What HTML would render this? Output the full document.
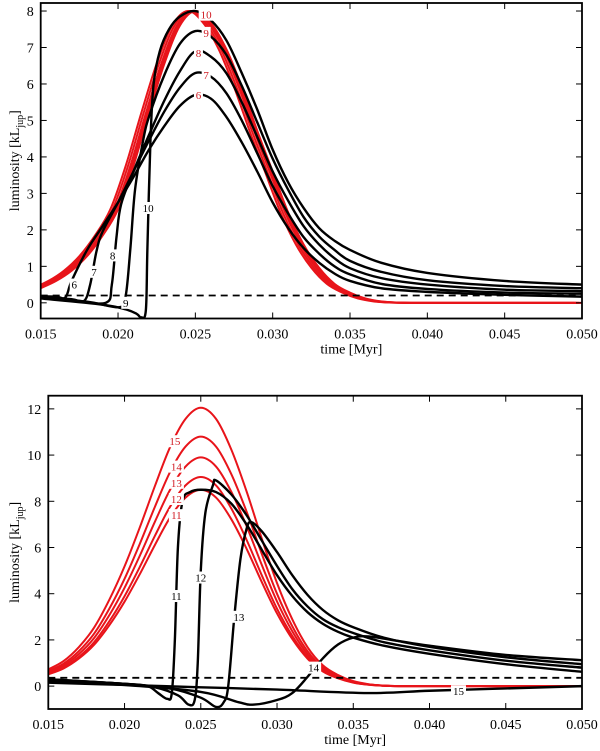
<!DOCTYPE html>
<html><head><meta charset="utf-8">
<style>
html,body{margin:0;padding:0;background:#fff;}
svg{display:block;font-family:"Liberation Serif",serif;}
</style></head>
<body>
<svg id="chart" width="600" height="751" viewBox="0 0 600 751" xmlns="http://www.w3.org/2000/svg"></svg>
<script>
// ---------- data ----------
const xTicks = [0.015,0.020,0.025,0.030,0.035,0.040,0.045,0.050];
const xTickLabels = ["0.015","0.020","0.025","0.030","0.035","0.040","0.045","0.050"];
const yTicksTop = [0,1,2,3,4,5,6,7,8];
const yTicksBot = [0,2,4,6,8,10,12];
// red reference shapes (normalised), sampled on time grid
const shapeT = [0.015,0.016,0.017,0.018,0.019,0.020,0.021,0.022,0.023,0.024,0.025,0.026,0.027,0.028,0.029,0.030,0.031,0.032,0.033,0.034,0.035,0.036,0.037,0.038,0.039,0.042,0.046,0.050];
const shapeTopV = [0.05,0.075,0.11,0.16,0.23,0.32,0.47,0.65,0.82,0.95,1.0,0.96,0.87,0.74,0.59,0.45,0.31,0.2,0.12,0.065,0.035,0.015,0.005,0.001,0,0,0,0];
const shapeBotV = [0.06,0.09,0.14,0.21,0.31,0.43,0.57,0.72,0.86,0.96,1.0,0.96,0.85,0.7,0.53,0.37,0.24,0.14,0.075,0.04,0.018,0.007,0.002,0,0,0,0,0];
const redTopAmp = [8,8,8,8,8];
const redTopOff = [-0.0005,-0.00035,-0.0002,-0.0001,0];
const redBotAmp = [8.5,9.05,9.9,10.8,12.05];
const redBotOff = [0,0,0,0,0];
const dashTop = 0.2;
const dashBot = 0.36;
// black curves (time, luminosity)
const top6 = [[0.015,0.18],[0.016,0.17],[0.0166,0.15],[0.017,0.6],[0.018,1.45],[0.019,2.1],[0.020,2.75],[0.021,3.45],[0.022,4.2],[0.023,4.85],[0.024,5.4],[0.025,5.7],[0.026,5.6],[0.027,5.1],[0.028,4.4],[0.029,3.6],[0.030,2.75],[0.031,2.05],[0.032,1.5],[0.033,1.1],[0.034,0.8],[0.035,0.6],[0.037,0.4],[0.040,0.3],[0.045,0.22],[0.050,0.17]];
const top7 = [[0.015,0.16],[0.017,0.1],[0.0178,0.05],[0.0182,0.5],[0.0186,1.4],[0.019,1.95],[0.020,2.75],[0.021,3.6],[0.022,4.45],[0.023,5.25],[0.024,5.9],[0.025,6.3],[0.026,6.2],[0.027,5.75],[0.028,5.0],[0.029,4.1],[0.030,3.2],[0.031,2.45],[0.032,1.8],[0.033,1.35],[0.034,1.0],[0.035,0.78],[0.037,0.52],[0.040,0.38],[0.045,0.28],[0.050,0.25]];
const top8 = [[0.015,0.14],[0.017,0.08],[0.0192,0.0],[0.0196,0.5],[0.0199,1.8],[0.0202,2.7],[0.021,3.6],[0.022,4.6],[0.023,5.55],[0.024,6.35],[0.025,6.9],[0.026,6.75],[0.027,6.3],[0.028,5.5],[0.029,4.55],[0.030,3.6],[0.031,2.8],[0.032,2.1],[0.033,1.6],[0.034,1.22],[0.035,0.95],[0.037,0.68],[0.040,0.5],[0.045,0.36],[0.050,0.32]];
const top9 = [[0.015,0.13],[0.018,0.03],[0.0201,-0.12],[0.0205,0.2],[0.0208,1.5],[0.0211,3.1],[0.0216,4.4],[0.022,5.1],[0.023,6.25],[0.024,7.1],[0.025,7.45],[0.026,7.3],[0.027,6.8],[0.028,5.95],[0.029,4.95],[0.030,3.95],[0.031,3.1],[0.032,2.35],[0.033,1.82],[0.034,1.45],[0.035,1.15],[0.037,0.85],[0.040,0.62],[0.045,0.46],[0.050,0.4]];
const top10 = [[0.015,0.12],[0.019,-0.05],[0.0205,-0.18],[0.0212,-0.3],[0.0215,-0.4],[0.0218,-0.2],[0.0219,1.5],[0.0221,4.5],[0.0223,6.0],[0.0227,6.9],[0.0233,7.5],[0.024,7.85],[0.025,8.0],[0.026,7.75],[0.027,7.2],[0.028,6.3],[0.029,5.3],[0.030,4.2],[0.031,3.3],[0.032,2.6],[0.033,2.05],[0.034,1.7],[0.035,1.45],[0.037,1.1],[0.040,0.82],[0.045,0.6],[0.050,0.5]];
const bot11 = [[0.015,0.3],[0.020,0.1],[0.0215,0.0],[0.0222,-0.3],[0.0228,-0.55],[0.0231,-0.3],[0.0233,2],[0.0235,6],[0.0238,8.0],[0.0243,8.4],[0.025,8.5],[0.026,8.4],[0.027,7.9],[0.028,7.0],[0.029,5.9],[0.030,4.8],[0.031,3.9],[0.032,3.2],[0.033,2.7],[0.034,2.35],[0.035,2.1],[0.037,1.75],[0.040,1.4],[0.045,0.95],[0.050,0.62]];
const bot12 = [[0.015,0.3],[0.020,0.1],[0.022,-0.05],[0.0235,-0.4],[0.0242,-0.8],[0.0246,-0.6],[0.0248,1],[0.025,5],[0.0253,7.5],[0.0258,8.7],[0.026,8.9],[0.027,8.3],[0.028,7.4],[0.029,6.3],[0.030,5.2],[0.031,4.2],[0.032,3.45],[0.033,2.9],[0.034,2.55],[0.035,2.3],[0.037,1.9],[0.040,1.55],[0.045,1.1],[0.050,0.8]];
const bot13 = [[0.015,0.28],[0.020,0.1],[0.023,-0.1],[0.025,-0.5],[0.026,-0.9],[0.0265,-0.7],[0.0268,0],[0.0272,3],[0.0276,5.5],[0.028,6.8],[0.0283,7.1],[0.029,6.7],[0.030,5.8],[0.031,4.8],[0.032,3.95],[0.033,3.3],[0.034,2.85],[0.035,2.55],[0.037,2.1],[0.040,1.7],[0.045,1.25],[0.050,0.95]];
const bot14 = [[0.015,0.2],[0.020,0.05],[0.025,-0.25],[0.0275,-0.7],[0.0285,-0.8],[0.030,-0.6],[0.031,-0.3],[0.032,0.4],[0.033,1.2],[0.034,1.8],[0.035,2.1],[0.036,2.15],[0.038,1.95],[0.040,1.75],[0.045,1.35],[0.050,1.12]];
const bot15 = [[0.015,0.15],[0.020,0.05],[0.025,-0.05],[0.030,-0.15],[0.036,-0.3],[0.040,-0.2],[0.045,-0.1],[0.050,0.0]];
const topBlack = [top6,top7,top8,top9,top10];
const botBlack = [bot11,bot12,bot13,bot14,bot15];
// labels: [text, time, lum]
const topBlackLabels = [["6",0.01717,0.5],["7",0.01845,0.85],["8",0.01965,1.3],["9",0.0205,0.0],["10",0.02195,2.6]];
const topRedLabels = [["10",0.0257,7.9],["9",0.0257,7.4],["8",0.0252,6.85],["7",0.0257,6.25],["6",0.0252,5.7]];
const botBlackLabels = [["11",0.0234,3.9],["12",0.0250,4.7],["13",0.0275,3.0],["14",0.0324,0.8],["15",0.0419,-0.22]];
const botRedLabels = [["15",0.0233,10.6],["14",0.0234,9.5],["13",0.0234,8.8],["12",0.0234,8.1],["11",0.0234,7.4]];

// ---------- layout ----------
const NS = "http://www.w3.org/2000/svg";
const svg = document.getElementById('chart');
function mk(tag, attrs, parent){ const e=document.createElementNS(NS,tag); for(const k in attrs) e.setAttribute(k,attrs[k]); (parent||svg).appendChild(e); return e; }
const P1 = {x0:40.7,x1:582,y0:3,y1:318.5,tmin:0.015,tmax:0.050,lmin:-0.43,lmax:8.22,name:'top'};
const P2 = {x0:48.3,x1:582,y0:395.7,y1:709,tmin:0.015,tmax:0.050,lmin:-0.99,lmax:12.57,name:'bottom'};
function sx(p,t){return p.x0+(t-p.tmin)/(p.tmax-p.tmin)*(p.x1-p.x0);}
function sy(p,v){return p.y1-(v-p.lmin)/(p.lmax-p.lmin)*(p.y1-p.y0);}
function smooth(pts){
  let d='M'+pts[0][0].toFixed(2)+','+pts[0][1].toFixed(2);
  for(let i=0;i<pts.length-1;i++){
    const p0=pts[Math.max(0,i-1)],p1=pts[i],p2=pts[i+1],p3=pts[Math.min(pts.length-1,i+2)];
    const k=0.17;
    const c1=[p1[0]+(p2[0]-p0[0])*k,p1[1]+(p2[1]-p0[1])*k];
    const c2=[p2[0]-(p3[0]-p1[0])*k,p2[1]-(p3[1]-p1[1])*k];
    d+=' C'+c1[0].toFixed(2)+','+c1[1].toFixed(2)+' '+c2[0].toFixed(2)+','+c2[1].toFixed(2)+' '+p2[0].toFixed(2)+','+p2[1].toFixed(2);
  }
  return d;
}
function drawPanel(p, yTicks, shapeV, amps, offs, blacks, dash, blackLabels, redLabels, firstNum){
  const g = mk('g',{});
  
  
  const clipId='clip-'+p.name;
  const cp=mk('clipPath',{id:clipId},g);
  mk('rect',{x:p.x0,y:p.y0,width:p.x1-p.x0,height:p.y1-p.y0},cp);
  const plot=mk('g',{'clip-path':'url(#'+clipId+')'},g);
  amps.forEach((A,i)=>{
    const pts=shapeT.map((t,j)=>[sx(p,t+offs[i]),sy(p,A*shapeV[j])]);
    const path=mk('path',{d:smooth(pts),fill:'none',stroke:'#e8141a','stroke-width':2},plot);
    
    
  });
  const dl=mk('line',{x1:p.x0,x2:p.x1,y1:sy(p,dash),y2:sy(p,dash),stroke:'#000','stroke-width':1.8,'stroke-dasharray':'7,5'},plot);
  
  
  blacks.forEach((c,i)=>{
    const pts=c.map(q=>[sx(p,q[0]),sy(p,q[1])]);
    const path=mk('path',{d:smooth(pts),fill:'none',stroke:'#000','stroke-width':2.4,'stroke-linejoin':'round'},plot);
    
    
  });
  function lab(arr,color,kind){
    arr.forEach(l=>{
      const x=sx(p,l[1]), y=sy(p,l[2]);
      const w=l[0].length*6+3;
      mk('rect',{x:x-w/2,y:y-6,width:w,height:12,fill:'#fff'},plot);
      const t=mk('text',{x:x,y:y+4,'font-size':11,'text-anchor':'middle',fill:color},plot);
      t.textContent=l[0];
      
      
    });
  }
  lab(blackLabels,'#000','black-curve');
  lab(redLabels,'#d01820','red-curve');
  const fr=mk('rect',{x:p.x0,y:p.y0,width:p.x1-p.x0,height:p.y1-p.y0,fill:'none',stroke:'#000','stroke-width':1.8},g);
  
  
  xTicks.forEach((t,i)=>{
    const x=sx(p,t);
    mk('line',{x1:x,x2:x,y1:p.y1,y2:p.y1-6,stroke:'#000','stroke-width':1},g);
    mk('line',{x1:x,x2:x,y1:p.y0,y2:p.y0+6,stroke:'#000','stroke-width':1},g);
    const tx=mk('text',{x:x,y:p.y1+20,'font-size':14,'text-anchor':'middle'},g);
    tx.textContent=xTickLabels[i];
    
    
  });
  yTicks.forEach(v=>{
    const y=sy(p,v);
    mk('line',{x1:p.x0,x2:p.x0+6,y1:y,y2:y,stroke:'#000','stroke-width':1},g);
    mk('line',{x1:p.x1,x2:p.x1-6,y1:y,y2:y,stroke:'#000','stroke-width':1},g);
    const ty=mk('text',{x:p.x0-7,y:y+5,'font-size':14,'text-anchor':'end'},g);
    ty.textContent=String(v);
    
    
  });
  const xt=mk('text',{x:(p.x0+p.x1)/2+40,y:p.y1+35,'font-size':14,'text-anchor':'middle'},g);
  xt.textContent='time [Myr]';
  
  
  const cy=(p.y0+p.y1)/2;
  const yt=mk('text',{x:0,y:0,'font-size':14,'text-anchor':'middle',transform:'translate(19,'+cy+') rotate(-90)'},g);
  yt.innerHTML='luminosity [kL<tspan font-size="10" dy="4">jup</tspan><tspan dy="-4">]</tspan>';
  
  
}
drawPanel(P1,yTicksTop,shapeTopV,redTopAmp,redTopOff,topBlack,dashTop,topBlackLabels,topRedLabels,6);
drawPanel(P2,yTicksBot,shapeBotV,redBotAmp,redBotOff,botBlack,dashBot,botBlackLabels,botRedLabels,11);
</script>
</body></html>
